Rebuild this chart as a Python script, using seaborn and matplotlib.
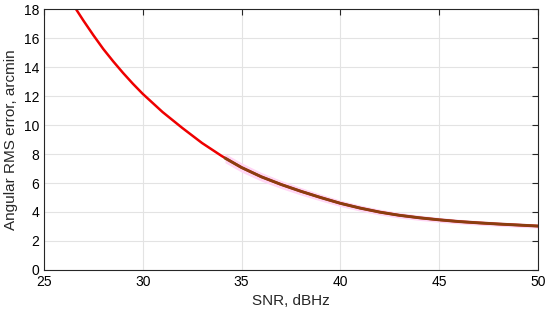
import matplotlib
matplotlib.use("Agg")
import matplotlib.pyplot as plt
import seaborn as sns
import pandas as pd

# Theory curve (red)
snr_theory = [26.62, 27, 27.5, 28, 28.5, 29, 29.5, 30, 31, 32, 33, 34, 35, 36,
              37, 38, 39, 40, 41, 42, 43, 44, 45, 46, 47, 48, 49, 50]
err_theory = [18.0, 17.2, 16.2, 15.25, 14.4, 13.6, 12.85, 12.15, 10.9, 9.8,
              8.76, 7.86, 7.07, 6.43, 5.9, 5.43, 5.0, 4.6, 4.27, 3.99, 3.77,
              3.6, 3.46, 3.34, 3.25, 3.17, 3.1, 3.03]
# Simulation curve (dark) and its spread (pink band)
snr_sim = [34.16, 35, 36, 37, 38, 39, 40, 41, 42, 43, 44, 45, 46, 47, 48, 49, 50]
err_sim = [7.72, 7.07, 6.43, 5.9, 5.43, 5.0, 4.6, 4.27, 3.99, 3.77, 3.6,
           3.46, 3.34, 3.25, 3.17, 3.1, 3.03]
err_lo = [7.4, 6.75, 6.13, 5.62, 5.17, 4.76, 4.38, 4.06, 3.79, 3.58, 3.42,
          3.29, 3.18, 3.09, 3.02, 2.95, 2.89]
err_hi = [8.04, 7.39, 6.73, 6.18, 5.69, 5.24, 4.82, 4.48, 4.19, 3.96, 3.78,
          3.63, 3.5, 3.41, 3.32, 3.25, 3.17]

x_ticks = [25, 30, 35, 40, 45, 50]
y_ticks = [0, 2, 4, 6, 8, 10, 12, 14, 16, 18]

sns.set_style("white")
plt.rcParams['font.family'] = ['Liberation Sans', 'DejaVu Sans']

fig = plt.figure(figsize=(5.5, 3.15), dpi=100)
ax = fig.add_axes([0.08, 0.143, 0.898, 0.828])

df_t = pd.DataFrame({"snr": snr_theory, "err": err_theory})
df_s = pd.DataFrame({"snr": snr_sim, "err": err_sim})

ax.fill_between(snr_sim, err_lo, err_hi, color="#ffd6f5", linewidth=0, zorder=1)
sns.lineplot(data=df_t, x="snr", y="err", ax=ax, color="#ee0000", linewidth=1.8)
sns.lineplot(data=df_s, x="snr", y="err", ax=ax, color="#8a3e10", linewidth=2.1)
for ln in ax.lines:
    ln.set_solid_joinstyle("round")

ax.set_xlim(25, 50)
ax.set_ylim(0, 18)
ax.set_xticks(x_ticks)
ax.set_yticks(y_ticks)
ax.grid(True, color="#e3e3e3", linewidth=0.8)
ax.set_axisbelow(True)
for s in ax.spines.values():
    s.set_color("#262626")
    s.set_linewidth(0.8)
ax.tick_params(direction="in", length=4, width=0.8, top=True, right=True,
               labelsize=10, colors="#262626", labelcolor="black")
ax.set_xlabel("SNR, dBHz", fontsize=11, labelpad=4)
ax.set_ylabel("Angular RMS error, arcmin", fontsize=11, labelpad=4)

fig.savefig("out.png", dpi=100)
